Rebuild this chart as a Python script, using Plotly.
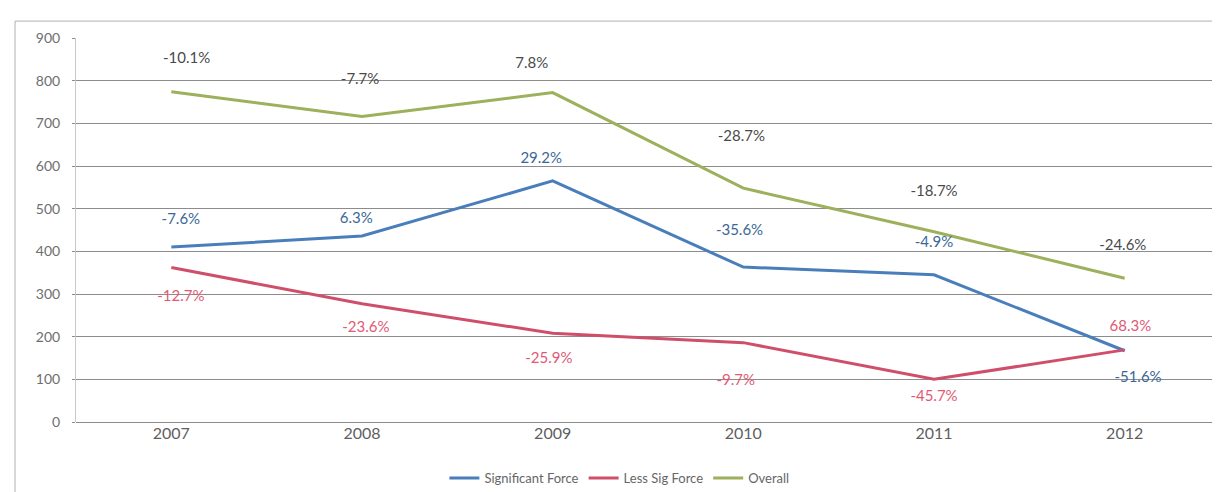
import plotly.graph_objects as go

years = ["2007", "2008", "2009", "2010", "2011", "2012"]
significant = [410, 436, 565, 363, 345, 167]
less_sig = [362, 277, 208, 186, 100, 169]
overall = [774, 716, 772, 548, 446, 337]

sig_labels = ["-7.6%", "6.3%", "29.2%", "-35.6%", "-4.9%", "-51.6%"]
less_labels = ["-12.7%", "-23.6%", "-25.9%", "-9.7%", "-45.7%", "68.3%"]
overall_labels = ["-10.1%", "-7.7%", "7.8%", "-28.7%", "-18.7%", "-24.6%"]

# label offsets (category fraction, value units) relative to each point
sig_off = [(0.05, 62), (-0.03, 40), (-0.06, 51), (-0.02, 84), (0.0, 73), (0.07, -65)]
less_off = [(0.05, -70), (0.02, -57), (-0.02, -61), (-0.04, -90), (0.0, -43), (0.03, 54)]
overall_off = [(0.08, 77), (-0.01, 84), (-0.11, 67), (-0.01, 120), (0.0, 93), (-0.01, 76)]

C_BLUE = "#4A7EBB"
C_RED = "#CF4F6B"
C_GREEN = "#9DB05C"
T_BLUE = "#3A6896"
T_RED = "#E05A74"
T_GRAY = "#4A4A4A"
FONT = "Lato"

idx = list(range(len(years)))

fig = go.Figure()
fig.add_trace(go.Scatter(x=idx, y=significant, mode="lines", name="Significant Force",
                         line=dict(color=C_BLUE, width=3)))
fig.add_trace(go.Scatter(x=idx, y=less_sig, mode="lines", name="Less Sig Force",
                         line=dict(color=C_RED, width=3)))
fig.add_trace(go.Scatter(x=idx, y=overall, mode="lines", name="Overall",
                         line=dict(color=C_GREEN, width=3)))

for vals, labs, offs, col in [(overall, overall_labels, overall_off, T_GRAY),
                              (significant, sig_labels, sig_off, T_BLUE),
                              (less_sig, less_labels, less_off, T_RED)]:
    fig.add_trace(go.Scatter(
        x=[i + o[0] for i, o in zip(idx, offs)],
        y=[v + o[1] for v, o in zip(vals, offs)],
        mode="text", text=labs, textposition="middle center",
        textfont=dict(family=FONT, size=15, color=col),
        showlegend=False, hoverinfo="skip"))

fig.update_layout(
    width=1220, height=492,
    margin=dict(l=68, r=8, t=30, b=77),
    paper_bgcolor="white", plot_bgcolor="white",
    font=dict(family=FONT, color="#666666"),
    showlegend=True,
    legend=dict(orientation="h", x=0.475, xanchor="center", y=-0.143, yanchor="middle",
                bgcolor="rgba(0,0,0,0)",
                font=dict(size=13, color="#666666"), itemwidth=30,
                tracegroupgap=0),
    xaxis=dict(range=[-0.5, 5.5], tickvals=idx, ticktext=years, showgrid=False,
               showline=False, zeroline=False,
               ticks="", tickfont=dict(size=16, color="#606060")),
    yaxis=dict(range=[0, 900], dtick=100, showgrid=True, gridcolor="#8C8C8C", gridwidth=1,
               zeroline=True, zerolinecolor="#8C8C8C", zerolinewidth=1,
               showline=True, linecolor="#C8C8C8", linewidth=1,
               ticks="outside", ticklen=3, tickcolor="#8C8C8C",
               ticklabelstandoff=9,
               tickfont=dict(size=14, color="#6E6E6E")),
    shapes=[dict(type="rect", xref="paper", yref="paper", x0=-0.0533, x1=1.0009,
                 y0=-0.192, y1=1.044, line=dict(color="#B0B0B0", width=1))],
)

fig.write_html("out.html")
